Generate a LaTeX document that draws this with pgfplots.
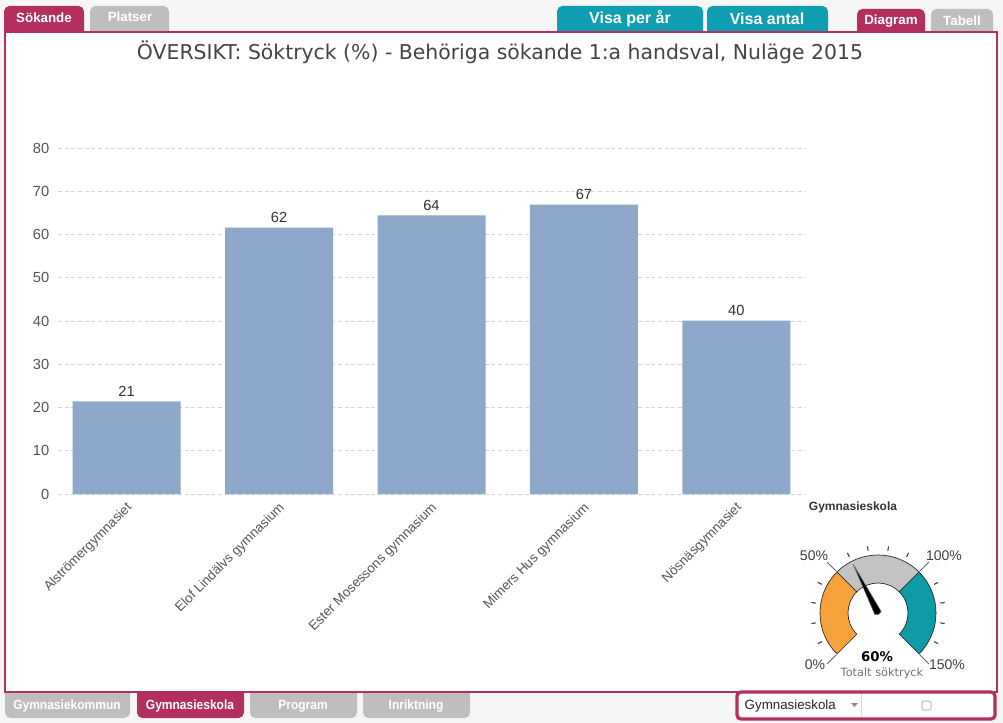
\documentclass[border=0pt]{standalone}
\usepackage{fontspec}
\setmainfont{Liberation Sans}
\newfontfamily\verdana{DejaVu Sans}
\usepackage{pgfplots}
\pgfplotsset{compat=1.18}
\usepgfplotslibrary{polar}

\definecolor{crimson}{HTML}{B3305E}
\definecolor{tealtab}{HTML}{0E9DB1}
\definecolor{graytab}{HTML}{BEBEBE}
\definecolor{barblue}{HTML}{8DA8CA}
\definecolor{gorange}{HTML}{F7A13A}
\definecolor{ggray}{HTML}{C3C3C3}
\definecolor{gteal}{HTML}{0F9AA8}
\definecolor{pagebg}{HTML}{F6F6F6}
\definecolor{gridgray}{HTML}{D4D4D4}
\definecolor{ticktext}{HTML}{555555}
\definecolor{titletext}{HTML}{444444}

% Söktryck per gymnasieskola (%)
\pgfplotstableread{
x  val
0  21.4
1  61.6
2  64.4
3  66.9
4  40.1
}\soktryck

\begin{document}
\begin{tikzpicture}
% page in pixel units, y downwards
\begin{scope}[x=0.75pt,y=-0.75pt]
\fill[pagebg] (0,0) rectangle (1003,723);
\path[use as bounding box] (0,0) rectangle (1003,723);
% top tabs
\fill[crimson, rounded corners=4] (4,6) rectangle (84,40);
\fill[graytab, rounded corners=4] (90,6) rectangle (169,40);
\fill[tealtab, rounded corners=4] (557,6) rectangle (703,40);
\fill[tealtab, rounded corners=4] (707,6) rectangle (828,40);
\fill[crimson, rounded corners=4] (857,9) rectangle (925,40);
\fill[graytab, rounded corners=4] (931,9) rectangle (993,40);
% bottom tabs
\fill[graytab, rounded corners=4] (5,684) rectangle (130,718);
\fill[crimson, rounded corners=4] (137,684) rectangle (244,718);
\fill[graytab, rounded corners=4] (250,684) rectangle (357,718);
\fill[graytab, rounded corners=4] (363,684) rectangle (470,718);
% panel
\fill[white] (5,32) rectangle (997,692);
\draw[crimson, line width=1.5] (5,32) rectangle (997,692);
% tab texts
\begin{scope}[every node/.style={text=white, font=\bfseries\fontsize{10}{12}\selectfont}]
\node at (44,18) {Sökande};
\node at (130,17) {Platser};
\node at (891,21) {Diagram};
\node at (962,21) {Tabell};
\end{scope}
\begin{scope}[every node/.style={text=white, font=\bfseries\fontsize{12}{14}\selectfont}]
\node at (630,19) {Visa per år};
\node at (767,19) {Visa antal};
\end{scope}
\begin{scope}[every node/.style={text=white, font=\bfseries\fontsize{10}{12}\selectfont, xscale=0.9}]
\node at (67,706) {Gymnasiekommun};
\node at (190,706) {Gymnasieskola};
\node at (303,706) {Program};
\node at (416,706) {Inriktning};
\end{scope}
% title
\node[text=titletext, font=\verdana\fontsize{15.3}{17}\selectfont] at (500,52)
  {ÖVERSIKT: Söktryck (\%) - Behöriga sökande 1:a handsval, Nuläge 2015};
% x axis caption
\node[text=black!80, font=\bfseries\fontsize{9}{11}\selectfont] at (853,507) {Gymnasieskola};
% selector box bottom right
\draw[crimson, line width=2.5, rounded corners=3, fill=white] (737,692) rectangle (995,719);
\node[anchor=west, text=black!85, font=\fontsize{10}{12}\selectfont] at (740,706) {Gymnasieskola};
\fill[black!45] (851,703) -- (858,703) -- (854.5,707) -- cycle;
\draw[black!15] (861,694) -- (861,717);
\draw[black!40, rounded corners=1.5] (922,701) rectangle (931,710);
\end{scope}

% bar chart
\begin{axis}[
    at={(43.5pt,-370.5pt)}, anchor=south west,
    scale only axis, width=560.25pt, height=259.5pt,
    ybar, bar width=81pt,
    xmin=-0.45, xmax=4.45, ymin=0, ymax=80,
    ytick={0,10,...,80}, xtick={0,...,4},
    xticklabels={Alströmergymnasiet, Elof Lindälvs gymnasium, Ester Mosessons gymnasium, Mimers Hus gymnasium, Nösnäsgymnasiet},
    axis line style={draw=none}, major tick length=0pt,
    ymajorgrids, grid style={gridgray, dash pattern=on 3pt off 2pt, line width=0.5pt},
    /pgf/number format/assume math mode=true,
    yticklabel style={font=\fontsize{11}{13}\selectfont, text=ticktext, xshift=-3pt},
    xticklabel style={rotate=45, anchor=east, font=\fontsize{10}{12}\selectfont, text=ticktext, yshift=-8pt, xshift=-1pt},
    nodes near coords,
    nodes near coords style={font=\fontsize{11}{13}\selectfont, text=black!80, /pgf/number format/fixed, /pgf/number format/precision=0},
    clip=false,
]
\addplot[fill=barblue, draw=none] table[x=x, y=val] {\soktryck};
\end{axis}

% gauge scale
\begin{scope}[shift={(658.5pt,-459.75pt)}, x=0.75pt, y=0.75pt]
\filldraw[fill=gorange, draw=black!85, line width=0.5] (225:58) arc[start angle=225, end angle=135, radius=58] -- (135:30) arc[start angle=135, end angle=225, radius=30] -- cycle;
\filldraw[fill=ggray, draw=black!85, line width=0.5] (135:58) arc[start angle=135, end angle=45, radius=58] -- (45:30) arc[start angle=45, end angle=135, radius=30] -- cycle;
\filldraw[fill=gteal, draw=black!85, line width=0.5] (45:58) arc[start angle=45, end angle=-45, radius=58] -- (-45:30) arc[start angle=-45, end angle=45, radius=30] -- cycle;
\foreach \i in {1,2,3,4,6,7,8,9,11,12,13,14}
  \draw[black!75, line width=0.8] ({225-18*\i}:63) -- ({225-18*\i}:67.5);
\foreach \a in {225,135,45,-45}
  \draw[black!60, line width=0.6] (\a:59) -- (\a:72);
\begin{scope}[every node/.style={text=black!75, font=\fontsize{10.5}{12}\selectfont}]
\node at (-64,57) {50\%};
\node at (66,57) {100\%};
\node at (-63,-52) {0\%};
\node at (69,-52) {150\%};
\end{scope}
\node[font=\verdana\bfseries\fontsize{10}{12}\selectfont] at (-1,-44) {60\%};
\node[text=black!55, font=\verdana\fontsize{8.5}{10}\selectfont] at (4,-60) {Totalt söktryck};
\end{scope}

% gauge needle, value 60 % of a 0--150 % scale over 270 degrees
\begin{polaraxis}[
    at={(658.5pt,-459.75pt)}, anchor=center,
    scale only axis, width=105pt, height=105pt,
    ymin=0, ymax=70, hide axis, clip=false,
]
\addplot[fill=black, draw=black!60, line width=0.4] coordinates {(117,55) (207,3.5) (297,1.5) (27,3.5) (117,55)};
\end{polaraxis}
\end{tikzpicture}
\end{document}
